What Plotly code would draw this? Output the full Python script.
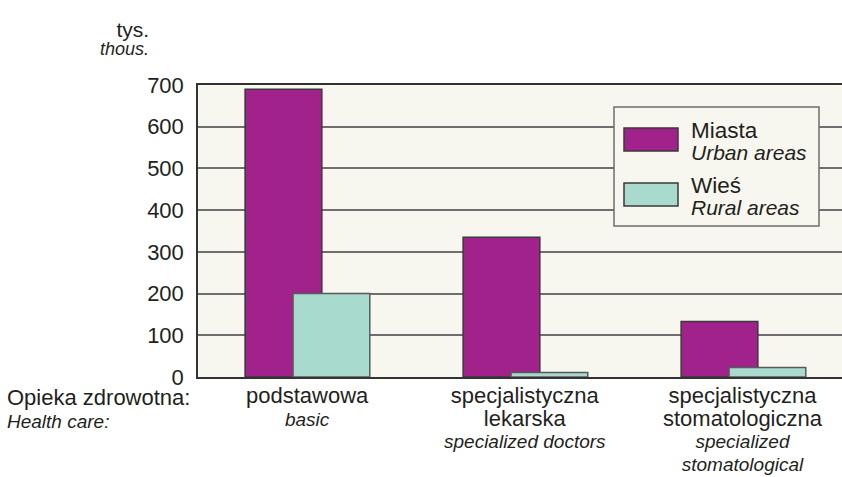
import plotly.graph_objects as go

categories_pl = ["podstawowa", "specjalistyczna<br>lekarska", "specjalistyczna<br>stomatologiczna"]
categories_en = ["basic", "specialized doctors", "specialized<br>stomatological"]
urban = [690, 335, 133]
rural = [200, 11, 23]
series_pl = ["Miasta", "Wieś"]
series_en = ["Urban areas", "Rural areas"]
y_ticks = [0, 100, 200, 300, 400, 500, 600, 700]

FONT = "Liberation Sans, Arial, Helvetica, sans-serif"
TXT = "#231f20"
URBAN_C = "#a0228a"
RURAL_C = "#a8dace"
BG = "#f7f7ef"
EDGE = "#3a3a3a"

W, H = 842, 477
ML, MR, MT, MB = 198, 0, 85, 100
PW, PH = W - ML - MR, H - MT - MB

def px(xp):
    return (xp - ML) / PW

def py(yp):
    return (H - MB - yp) / PH

def up(t, s):
    return f"<span style='font-size:{s}px'>{t}</span>"

def it(t, s):
    return f"<i><span style='font-size:{s}px'>{t}</span></i>"

x = list(range(len(categories_pl)))

fig = go.Figure()
fig.add_trace(go.Bar(x=x, y=urban, name=series_pl[0], width=0.352, offset=-0.284,
                     marker=dict(color=URBAN_C, line=dict(color=EDGE, width=1.5)),
                     showlegend=False))
fig.add_trace(go.Bar(x=x, y=rural, name=series_pl[1], width=0.352, offset=-0.064,
                     marker=dict(color=RURAL_C, line=dict(color="#5a5a5a", width=1.5)),
                     showlegend=False))

fig.update_layout(
    width=W, height=H,
    margin=dict(l=ML, r=MR, t=MT, b=MB),
    paper_bgcolor="white", plot_bgcolor=BG,
    barmode="overlay",
    font=dict(family=FONT, color=TXT, size=22),
    xaxis=dict(range=[-0.5, 2.454], tickvals=x, showticklabels=False,
               showgrid=False, zeroline=False,
               showline=True, linecolor="#333333", linewidth=1.5, mirror=True,
               ticks=""),
    yaxis=dict(range=[0, 700], tickvals=y_ticks, showgrid=True,
               gridcolor="#6e6e6e", gridwidth=1.5, zeroline=False,
               showline=True, linecolor="#333333", linewidth=1.5,
               ticks="", tickfont=dict(size=22), ticklabelstandoff=8),
)

BASE = 17.4  # line spacing = 1.3 * BASE

# Category labels (Polish upright, English italic)
for i, (pl, en) in enumerate(zip(categories_pl, categories_en)):
    lines = [up(t, 22) for t in pl.split("<br>")] + [it(t, 19) for t in en.split("<br>")]
    fig.add_annotation(xref="x", yref="paper", x=x[i], y=py(381),
                       xanchor="center", yanchor="top", align="center",
                       text="<br>".join(lines), showarrow=False,
                       font=dict(size=BASE))

# Unit labels
fig.add_annotation(xref="paper", yref="paper", x=px(151), y=py(16), xanchor="right",
                   yanchor="top", align="right",
                   text=up("tys.", 21) + "<br>" + it("thous.", 18),
                   showarrow=False, font=dict(size=14))

# Axis caption
fig.add_annotation(xref="paper", yref="paper", x=px(5), y=py(383), xanchor="left",
                   yanchor="top", align="left",
                   text=up("Opieka zdrowotna:", 22) + "<br>" + it("Health care:", 19),
                   showarrow=False, font=dict(size=BASE))

# Legend box
fig.add_shape(type="rect", xref="paper", yref="paper", x0=px(614), x1=px(819),
              y0=py(226), y1=py(107), fillcolor=BG, line=dict(color="#6e6e6e", width=1.5),
              layer="above")
sw_y = [(128, 151), (183, 206)]
colors = [URBAN_C, RURAL_C]
for i in range(2):
    fig.add_shape(type="rect", xref="paper", yref="paper", x0=px(624), x1=px(678),
                  y0=py(sw_y[i][1]), y1=py(sw_y[i][0]), fillcolor=colors[i],
                  line=dict(color=EDGE, width=1.5), layer="above")
    fig.add_annotation(xref="paper", yref="paper", x=px(689), y=py(sw_y[i][0] - 12),
                       xanchor="left", yanchor="top", align="left",
                       text=up(series_pl[i], 22.5) + "<br>" + it(series_en[i], 21),
                       showarrow=False, font=dict(size=17))

fig.write_html("out.html", config={"displayModeBar": False},
               post_script="document.body.style.margin='0';")
